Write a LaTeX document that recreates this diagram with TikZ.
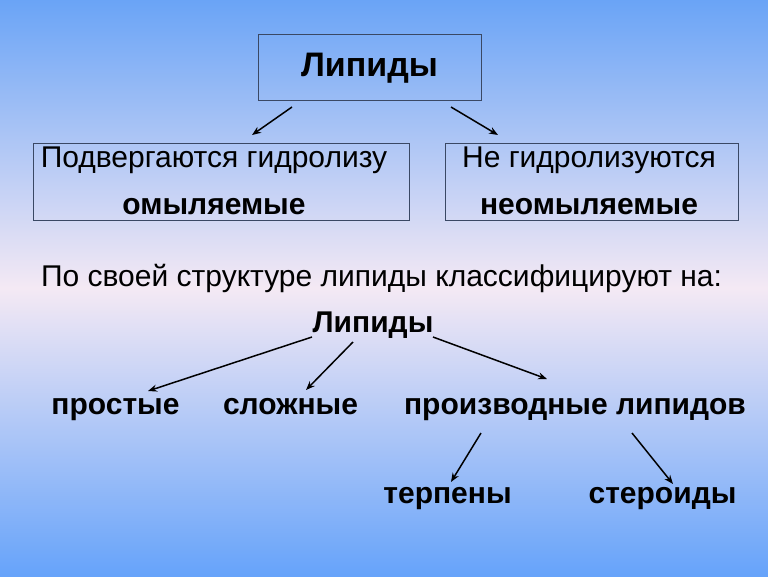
\documentclass[tikz,border=0pt]{standalone}
\usepackage{fontspec}
\setmainfont{Liberation Sans}
\usetikzlibrary{arrows.meta}
\definecolor{bgtop}{RGB}{106,164,246}
\definecolor{bgmid}{RGB}{244,233,244}
\definecolor{bgbot}{RGB}{102,163,250}
\definecolor{boxline}{RGB}{58,72,100}
\tikzset{
  frame/.style={draw=boxline, line width=0.9pt, inner sep=0pt},
  big/.style={anchor=base, font=\fontsize{34}{38}\selectfont\bfseries},
  plain/.style={anchor=base, font=\fontsize{30}{34}\selectfont},
  heavy/.style={anchor=base, font=\fontsize{30}{34}\selectfont\bfseries},
  arr/.style={-{Stealth[length=9pt,width=7pt]}, line width=1.5pt, black}
}
\begin{document}
\begin{tikzpicture}[x=1pt, y=-1pt, every node/.style={inner sep=0pt}]
  % Background.
  \shade[top color=bgtop, bottom color=bgbot, middle color=bgmid] (0,0) rectangle (768,576);
  \useasboundingbox (0,0) rectangle (768,576);

  % Upper scheme.
  \node[frame, minimum width=223pt, minimum height=66pt] (lip) at (369.5,67) {};
  \node[big] (liptxt) at (369.5,76) {Липиды};
  \node[frame, minimum width=376pt, minimum height=77pt] (sap) at (221,181.5) {};
  \node[plain] (saptop) at (214,167) {Подвергаются гидролизу};
  \node[heavy] (sapbot) at (214,214) {омыляемые};
  \node[frame, minimum width=293pt, minimum height=77pt] (unsap) at (591.5,181.5) {};
  \node[plain] (unsaptop) at (589,167) {Не гидролизуются};
  \node[heavy] (unsapbot) at (589,214) {неомыляемые};

  \coordinate (l1) at (292,107);
  \coordinate (l2) at (252,135);
  \coordinate (r1) at (451,107);
  \coordinate (r2) at (498,135);
  \draw[arr] (l1) -- (l2);
  \draw[arr] (r1) -- (r2);

  % Classification.
  \node[plain] (intro) at (381.5,286) {По своей структуре липиды классифицируют на:};
  \node[heavy] (root) at (373,332) {Липиды};
  \node[heavy] (simple) at (115.5,414) {простые};
  \node[heavy] (complex) at (290.5,414) {сложные};
  \node[heavy] (deriv) at (575,414) {производные липидов};
  \node[heavy] (terp) at (447.5,503) {терпены};
  \node[heavy] (ster) at (662.5,503) {стероиды};

  \coordinate (s1) at (312,337);
  \coordinate (s2) at (148,391);
  \coordinate (c1) at (353,342);
  \coordinate (c2) at (306,390);
  \coordinate (d1) at (433,337);
  \coordinate (d2) at (547,379);
  \coordinate (t1) at (481,433);
  \coordinate (t2) at (451,482);
  \coordinate (e1) at (632,433);
  \coordinate (e2) at (673,484);
  \draw[arr] (s1) -- (s2);
  \draw[arr] (c1) -- (c2);
  \draw[arr] (d1) -- (d2);
  \draw[arr] (t1) -- (t2);
  \draw[arr] (e1) -- (e2);
\end{tikzpicture}
\end{document}
